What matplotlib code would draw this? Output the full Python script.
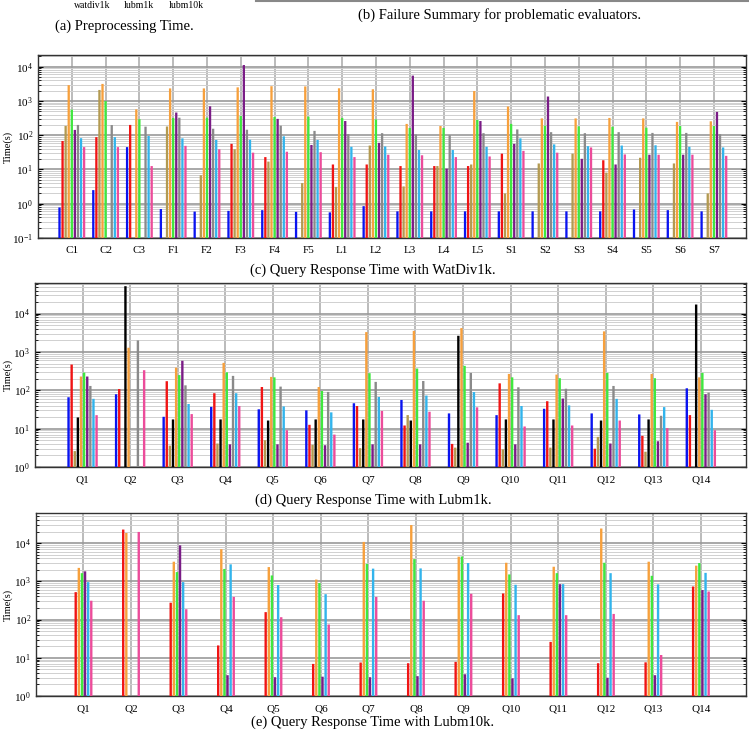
import numpy as np
import matplotlib
matplotlib.use('Agg')
import matplotlib.pyplot as plt
from matplotlib.lines import Line2D

plt.rcParams['font.family'] = ['Liberation Serif', 'DejaVu Serif']
plt.rcParams['mathtext.fontset'] = 'stix'

nan = np.nan

# (c) WatDiv1k: 20 queries, 9 evaluators
wd_queries = ['C1', 'C2', 'C3', 'F1', 'F2', 'F3', 'F4', 'F5', 'L1', 'L2',
              'L3', 'L4', 'L5', 'S1', 'S2', 'S3', 'S4', 'S5', 'S6', 'S7']
wd_blue = [0.78, 2.5, 45, 0.7, 0.59, 0.62, 0.65, 0.58, 0.56, 0.85,
           0.6, 0.6, 0.6, 0.6, 0.6, 0.6, 0.6, 0.68, 0.65, 0.6]
wd_red = [68, 88, 200, nan, nan, 56, 23, nan, 14, 14,
          12.6, 12.6, 12.6, 29, nan, nan, 18.6, nan, nan, nan]
wd_olive = [187, 2100, nan, 180, 6.8, 39, 17, 4.0, 3.1, 50,
            3.2, 12.6, 14, 2.0, 15, 29, 8.1, 22, 15, 2.0]
wd_orange = [2900, 3150, 570, 2330, 2330, 2500, 2700, 2660, 2350, 2200,
             214, 186, 1950, 690, 310, 310, 320, 310, 245, 255]
wd_green = [560, 990, 295, 320, 325, 365, 340, 350, 320, 290,
            163, 163, 280, 214, 190, 182, 177, 166, 186, 186]
wd_purple = [143, nan, nan, 460, 700, 11200, 300, 52, 260, 60,
             5500, 10.5, 260, 56, 1350, 20.5, 14, 27, 27, 480]
wd_gray = [200, 198, 178, 325, 155, 145, 190, 134, 108, 115,
           105, 100, 115, 148, 123, 115, 123, 117, 117, 107]
wd_cyan = [82, 88, 95, 81, 73, 74, 93, 73, 46, 47,
           37, 37, 46, 81, 54, 48, 50, 51, 46, 44]
wd_pink = [45, 45, 12.6, 49, 39, 31, 33, 32, 23, 27,
           26, 23, 24, 35, 31, 44, 27.5, 27, 27, 25]

# (d) Lubm1k: 14 queries, 10 evaluators
lubm_queries = ['Q1', 'Q2', 'Q3', 'Q4', 'Q5', 'Q6', 'Q7',
                'Q8', 'Q9', 'Q10', 'Q11', 'Q12', 'Q13', 'Q14']
l1_blue = [66, 79, 20.4, 37, 32, 30, 46, 56, 25, 22.5, 33, 25, 23.5, 113]
l1_red = [470, 108, 173, 84, 122, 12.6, 39, 12.1, 4.0, 152, 52, 3.0, 6.5, 22.6]
l1_olive = [2.6, nan, 3.6, 4.1, 5.0, 3.8, 3.1, 22.6, 3.2, 2.9, 3.2, 6.1, 2.5, nan]
l1_black = [19.6, 52000, 17.4, 17.4, 16.3, 17.4, 17.4, 16.3, 2650, 17.4, 17.4, 16.3, 17.4, 17300]
l1_orange = [229, 1290, 390, 520, 224, 122, 3300, 3550, 4200, 268, 257, 3450, 268, 218]
l1_green = [290, nan, 250, 295, 218, 96, 280, 370, 435, 218, 207, 285, 207, 285]
l1_purple = [229, nan, 590, 3.9, 3.9, 3.7, 3.9, 3.9, 4.3, 3.9, 61, 4.1, 4.7, 79]
l1_gray = [130, 2000, 135, 238, 125, 91, 166, 175, 285, 120, 110, 130, 21.7, 87]
l1_cyan = [60, nan, 44, 84, 38, 26.6, 67, 73, 90, 39, 40.5, 60, 36.5, 31]
l1_pink = [22.5, 335, 24, 39, 9.1, 7.0, 29, 27.6, 36, 11.4, 12.1, 16.3, 10.3, 9.1]

# (e) Lubm10k: 14 queries, 6 evaluators
l10_red = [520, 22500, 275, 21, 156, 6.9, 7.5, 7.2, 7.8, 480, 26, 7.2, 7.6, 730]
l10_orange = [2240, 18300, 3250, 6900, 2350, 1110, 10700, 29500, 4400, 3050, 2400, 24000, 3250, 2560]
l10_green = [1630, nan, 1740, 2100, 1420, 900, 2850, 3800, 4450, 1510, 1630, 3050, 1390, 3000]
l10_purple = [1820, nan, 8700, 3.5, 3.1, 3.2, 3.1, 3.3, 3.7, 2.9, 840, 3.0, 3.5, 590]
l10_cyan = [950, nan, 950, 2770, 800, 460, 2140, 2170, 3000, 810, 840, 1630, 830, 1660]
l10_pink = [310, 19500, 186, 390, 115, 74, 390, 310, 470, 130, 130, 140, 11.8, 540]

datasets_a = ['watdiv1k', 'lubm1k', 'lubm10k']

C_BLUE = '#0a14f0'
C_RED = '#f01414'
C_OLIVE = '#b39a50'
C_BLACK = '#000000'
C_ORANGE = '#f7a03c'
C_GREEN = '#3fe83f'
C_PURPLE = '#7a1c86'
C_GRAY = '#8a8a8a'
C_CYAN = '#32b4ec'
C_PINK = '#ec4c9a'


def draw_panel(ax, labels, series, step, width, ylim, label_x):
    x = np.arange(len(labels))
    n = len(series)
    for i, (vals, col) in enumerate(series):
        off = (i - (n - 1) / 2) * step
        ax.bar(x + off, vals, width=width, color=col, zorder=3, linewidth=0, snap=False)
    ax.set_yscale('log')
    ax.set_ylim(*ylim)
    ax.set_xlim(-1.0, len(labels) - 1 + 0.95)
    ax.set_xticks(x)
    ax.set_xticklabels(labels, fontsize=8)
    ax.set_axisbelow(True)
    ax.grid(True, which='major', axis='y', color='#9a9a9a', lw=1.2)
    ax.grid(True, which='minor', axis='y', color='#d0d0d0', lw=0.7)
    ax.grid(True, which='major', axis='x', color='#a8a8a8', lw=1.1)
    ax.tick_params(axis='both', which='both', direction='in', labelsize=8,
                   right=True, top=False)
    ax.tick_params(axis='x', length=0, pad=6)
    ax.set_ylabel('Time(s)', fontsize=7.5)
    ax.yaxis.set_label_coords(label_x, 0.5)
    for s in ax.spines.values():
        s.set_color('#333333')
        s.set_linewidth(1.0)


fig = plt.figure(figsize=(7.49, 7.30), dpi=100)
W, H = 749.0, 730.0


def axes_px(left, top, right, bottom):
    return fig.add_axes([left / W, 1 - bottom / H, (right - left) / W, (bottom - top) / H])


# top strip: remains of panels (a) and (b)
for name, xc in zip(datasets_a, [92, 139, 186]):
    fig.text(xc / W, 1 - 6 / H, name, fontsize=7, ha='center', va='center')
fig.text(124 / W, 1 - 26 / H, '(a) Preprocessing Time.', fontsize=10.5, ha='center', va='center')
fig.add_artist(Line2D([256 / W, 1.0], [1 - 1 / H, 1 - 1 / H], color='#888888', lw=1.5))
fig.text(500 / W, 1 - 15 / H, '(b) Failure Summary for problematic evaluators.',
         fontsize=10.5, ha='center', va='center')

# (c)
ax_c = axes_px(38, 55, 746, 238)
draw_panel(ax_c, wd_queries,
           [(wd_blue, C_BLUE), (wd_red, C_RED), (wd_olive, C_OLIVE), (wd_orange, C_ORANGE),
            (wd_green, C_GREEN), (wd_purple, C_PURPLE), (wd_gray, C_GRAY),
            (wd_cyan, C_CYAN), (wd_pink, C_PINK)],
           step=0.091, width=0.068, ylim=(0.1, 2.2e4), label_x=-25 / 708)
fig.text(373 / W, 1 - 270 / H, '(c) Query Response Time with WatDiv1k.',
         fontsize=10.5, ha='center', va='center')

# (d)
ax_d = axes_px(35, 283, 746, 467)
draw_panel(ax_d, lubm_queries,
           [(l1_blue, C_BLUE), (l1_red, C_RED), (l1_olive, C_OLIVE), (l1_black, C_BLACK),
            (l1_orange, C_ORANGE), (l1_green, C_GREEN), (l1_purple, C_PURPLE),
            (l1_gray, C_GRAY), (l1_cyan, C_CYAN), (l1_pink, C_PINK)],
           step=0.0655, width=0.05, ylim=(1, 6.3e4), label_x=-22 / 711)
fig.text(373 / W, 1 - 500 / H, '(d) Query Response Time with Lubm1k.',
         fontsize=10.5, ha='center', va='center')

# (e)
ax_e = axes_px(36, 513, 746, 696)
draw_panel(ax_e, lubm_queries,
           [(l10_red, C_RED), (l10_orange, C_ORANGE), (l10_green, C_GREEN),
            (l10_purple, C_PURPLE), (l10_cyan, C_CYAN), (l10_pink, C_PINK)],
           step=0.0655, width=0.05, ylim=(1, 6.1e4), label_x=-23 / 710)
fig.text(373 / W, 1 - 722 / H, '(e) Query Response Time with Lubm10k.',
         fontsize=10.5, ha='center', va='center')

fig.savefig('out.png', dpi=100)
